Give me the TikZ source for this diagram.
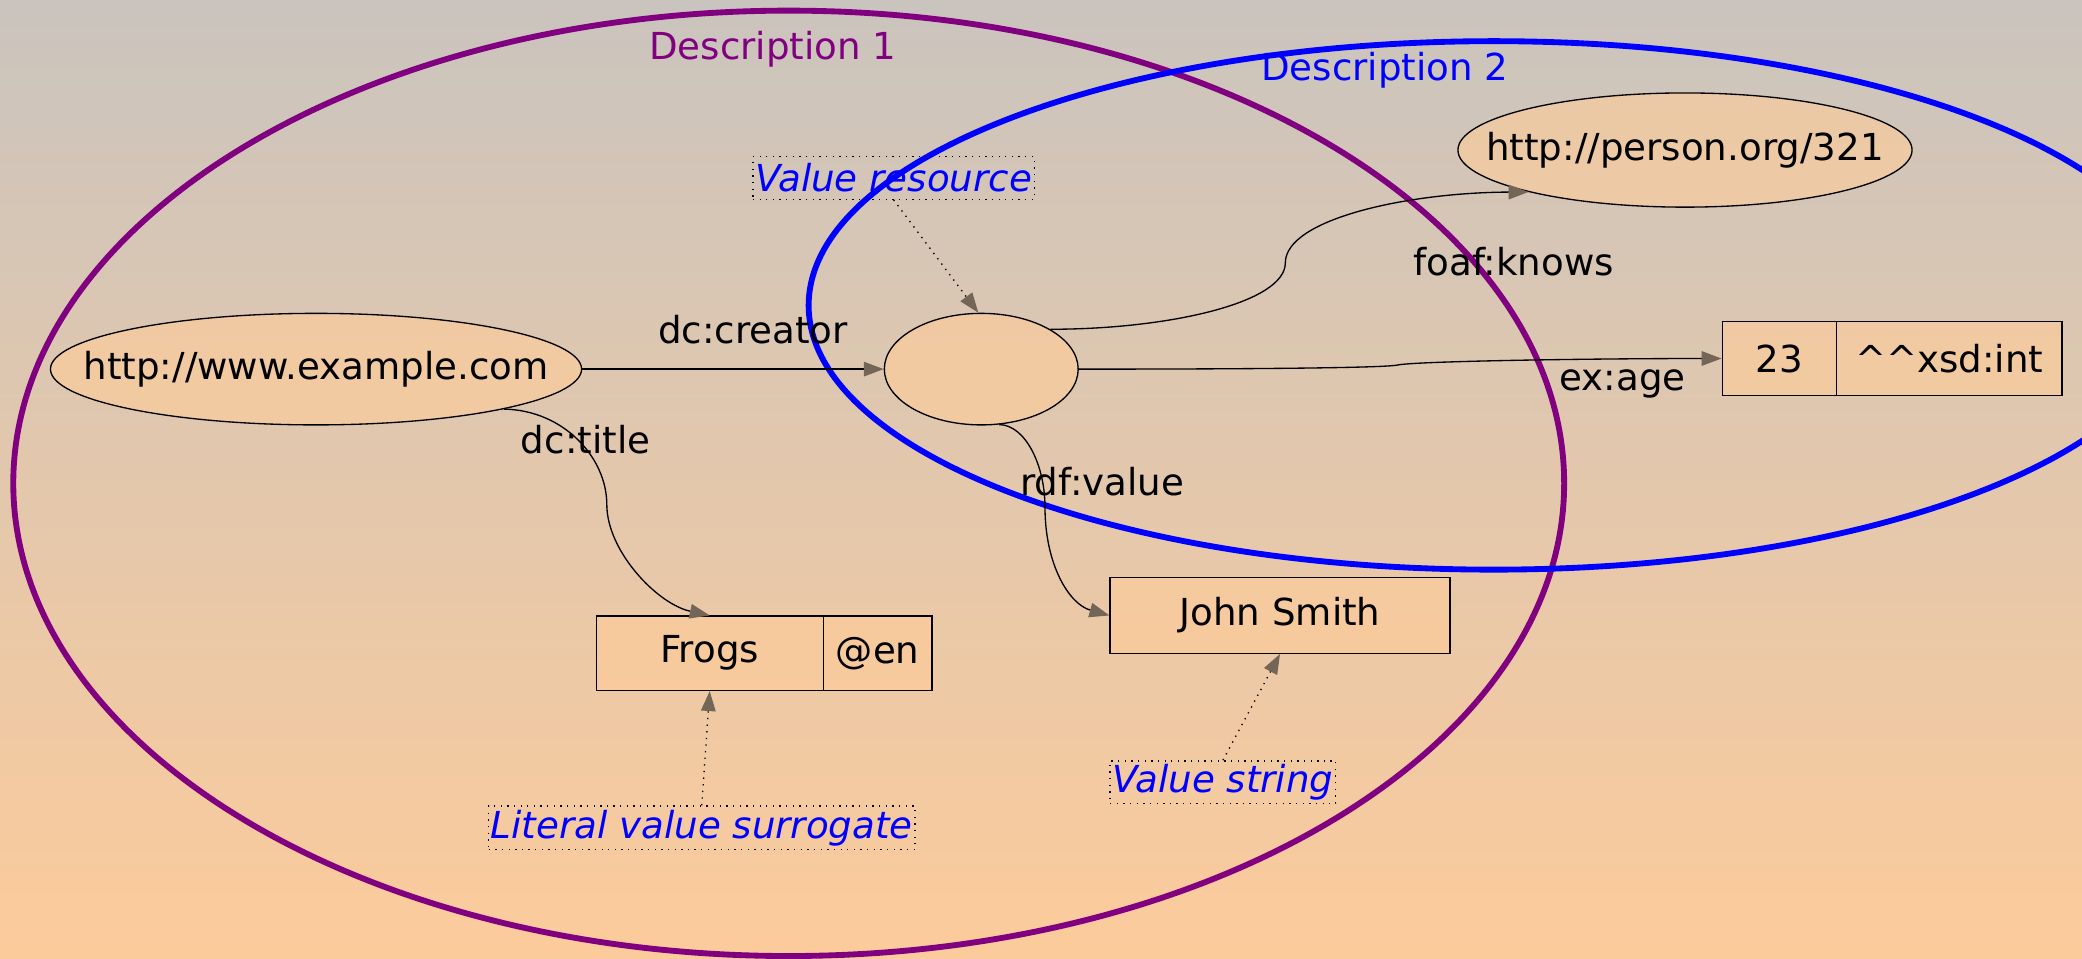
\documentclass[tikz,border=0pt]{standalone}
\usepackage{fontspec}
\setmainfont{DejaVu Sans}
\usetikzlibrary{arrows.meta,shapes.geometric}
\definecolor{bgtop}{HTML}{CAC4BE}
\definecolor{bgbot}{HTML}{FCCB9B}
\definecolor{nodefill}{HTML}{FFCC99}
\definecolor{tipc}{HTML}{746656}
\definecolor{descone}{HTML}{800080}
\definecolor{desctwo}{HTML}{0000FF}
\begin{document}
\begin{tikzpicture}[x=0.5pt,y=-0.5pt,
  font=\fontsize{14}{16}\selectfont,
  res/.style={ellipse, draw, line width=0.5pt, fill=nodefill, fill opacity=0.6, text opacity=1, inner sep=0pt},
  lit/.style={rectangle, draw, line width=0.5pt, fill=nodefill, fill opacity=0.6, text opacity=1, inner sep=0pt, minimum height=28pt},
  note/.style={rectangle, draw, dotted, line width=0.5pt, text=blue, font=\fontsize{14}{16}\selectfont\itshape, inner sep=0pt, minimum height=16pt},
  lbl/.style={inner sep=0pt},
  conn/.style={draw, line width=0.5pt, -{Triangle[length=7.5pt,width=5.5pt,color=tipc]}},
  noteconn/.style={conn, dotted}
]
\useasboundingbox (0,0) rectangle (1568,722);
\clip (0,0) rectangle (1568,722);
\fill[top color=bgtop, bottom color=bgbot] (0,0) rectangle (1568,722);

% description ellipses
\draw[descone, line width=2.2pt] (594,364) ellipse [x radius=292pt, y radius=178pt];
\draw[desctwo, line width=2.2pt] (1125,230) ellipse [x radius=258pt, y radius=99.5pt];
\node[lbl, text=descone] (d1) at (582,37) {Description 1};
\node[lbl, text=desctwo] (d2) at (1043,53) {Description 2};

% resources
\node[res, minimum width=200pt, minimum height=42pt] (ex) at (238,278) {\makebox[0pt]{http://www.example.com}};
\node[res, minimum width=73pt, minimum height=42pt] (blank) at (739,278) {};
\node[res, minimum width=171pt, minimum height=43pt] (person) at (1269,113) {\makebox[0pt]{http://person.org/321}};

% literals
\node[lit, minimum width=85.5pt] (frogs) at (534.5,492) {\makebox[0pt]{Frogs}};
\node[lit, minimum width=41pt] (en) at (661,492) {\makebox[0pt]{@en}};
\node[lit, minimum width=43pt] (age) at (1340,270) {\makebox[0pt]{23}};
\node[lit, minimum width=85pt] (xsd) at (1468,270) {\makebox[0pt]{\^{}\^{}xsd:int}};
\node[lit, minimum width=128pt, minimum height=28.5pt] (john) at (964,463.5) {\makebox[0pt]{John Smith}};

% notes
\node[note, minimum width=106pt] (noteres) at (673,134) {Value resource};
\node[note, minimum width=160.5pt, minimum height=16.5pt] (notelit) at (528.5,623.5) {Literal value surrogate};
\node[note, minimum width=85pt] (notestr) at (921,589) {Value string};

% edge labels
\node[lbl] (lcreator) at (567,248) {dc:creator};
\node[lbl] (lknows) at (1140,197) {foaf:knows};
\node[lbl] (lage) at (1222,289) {ex:age};
\node[lbl] (ltitle) at (441,331) {dc:title};
\node[lbl] (lvalue) at (830,363) {rdf:value};

% edges
\path[conn] (ex.east) -- (blank.west);
\path[conn] (blank.30) .. controls (880,248) and (968,228) .. (968,198) .. controls (968,165) and (1060,145) .. (person.-165);
\path[conn] (blank.east) .. controls (950,278) and (1040,277) .. (1052,275) .. controls (1064,272) and (1200,270) .. (age.west);
\path[conn] (ex.-12) .. controls (425,309) and (457,345) .. (457,380) .. controls (457,415) and (495,455) .. (frogs.north);
\path[conn] (blank.-72) .. controls (772,320) and (787,350) .. (787,382) .. controls (787,425) and (805,455) .. (john.west);

% note connectors
\path[noteconn] (noteres.south) -- (blank.93);
\path[noteconn] (notelit.north) -- (frogs.south);
\path[noteconn] (notestr.north) -- (john.south);
\end{tikzpicture}
\end{document}
